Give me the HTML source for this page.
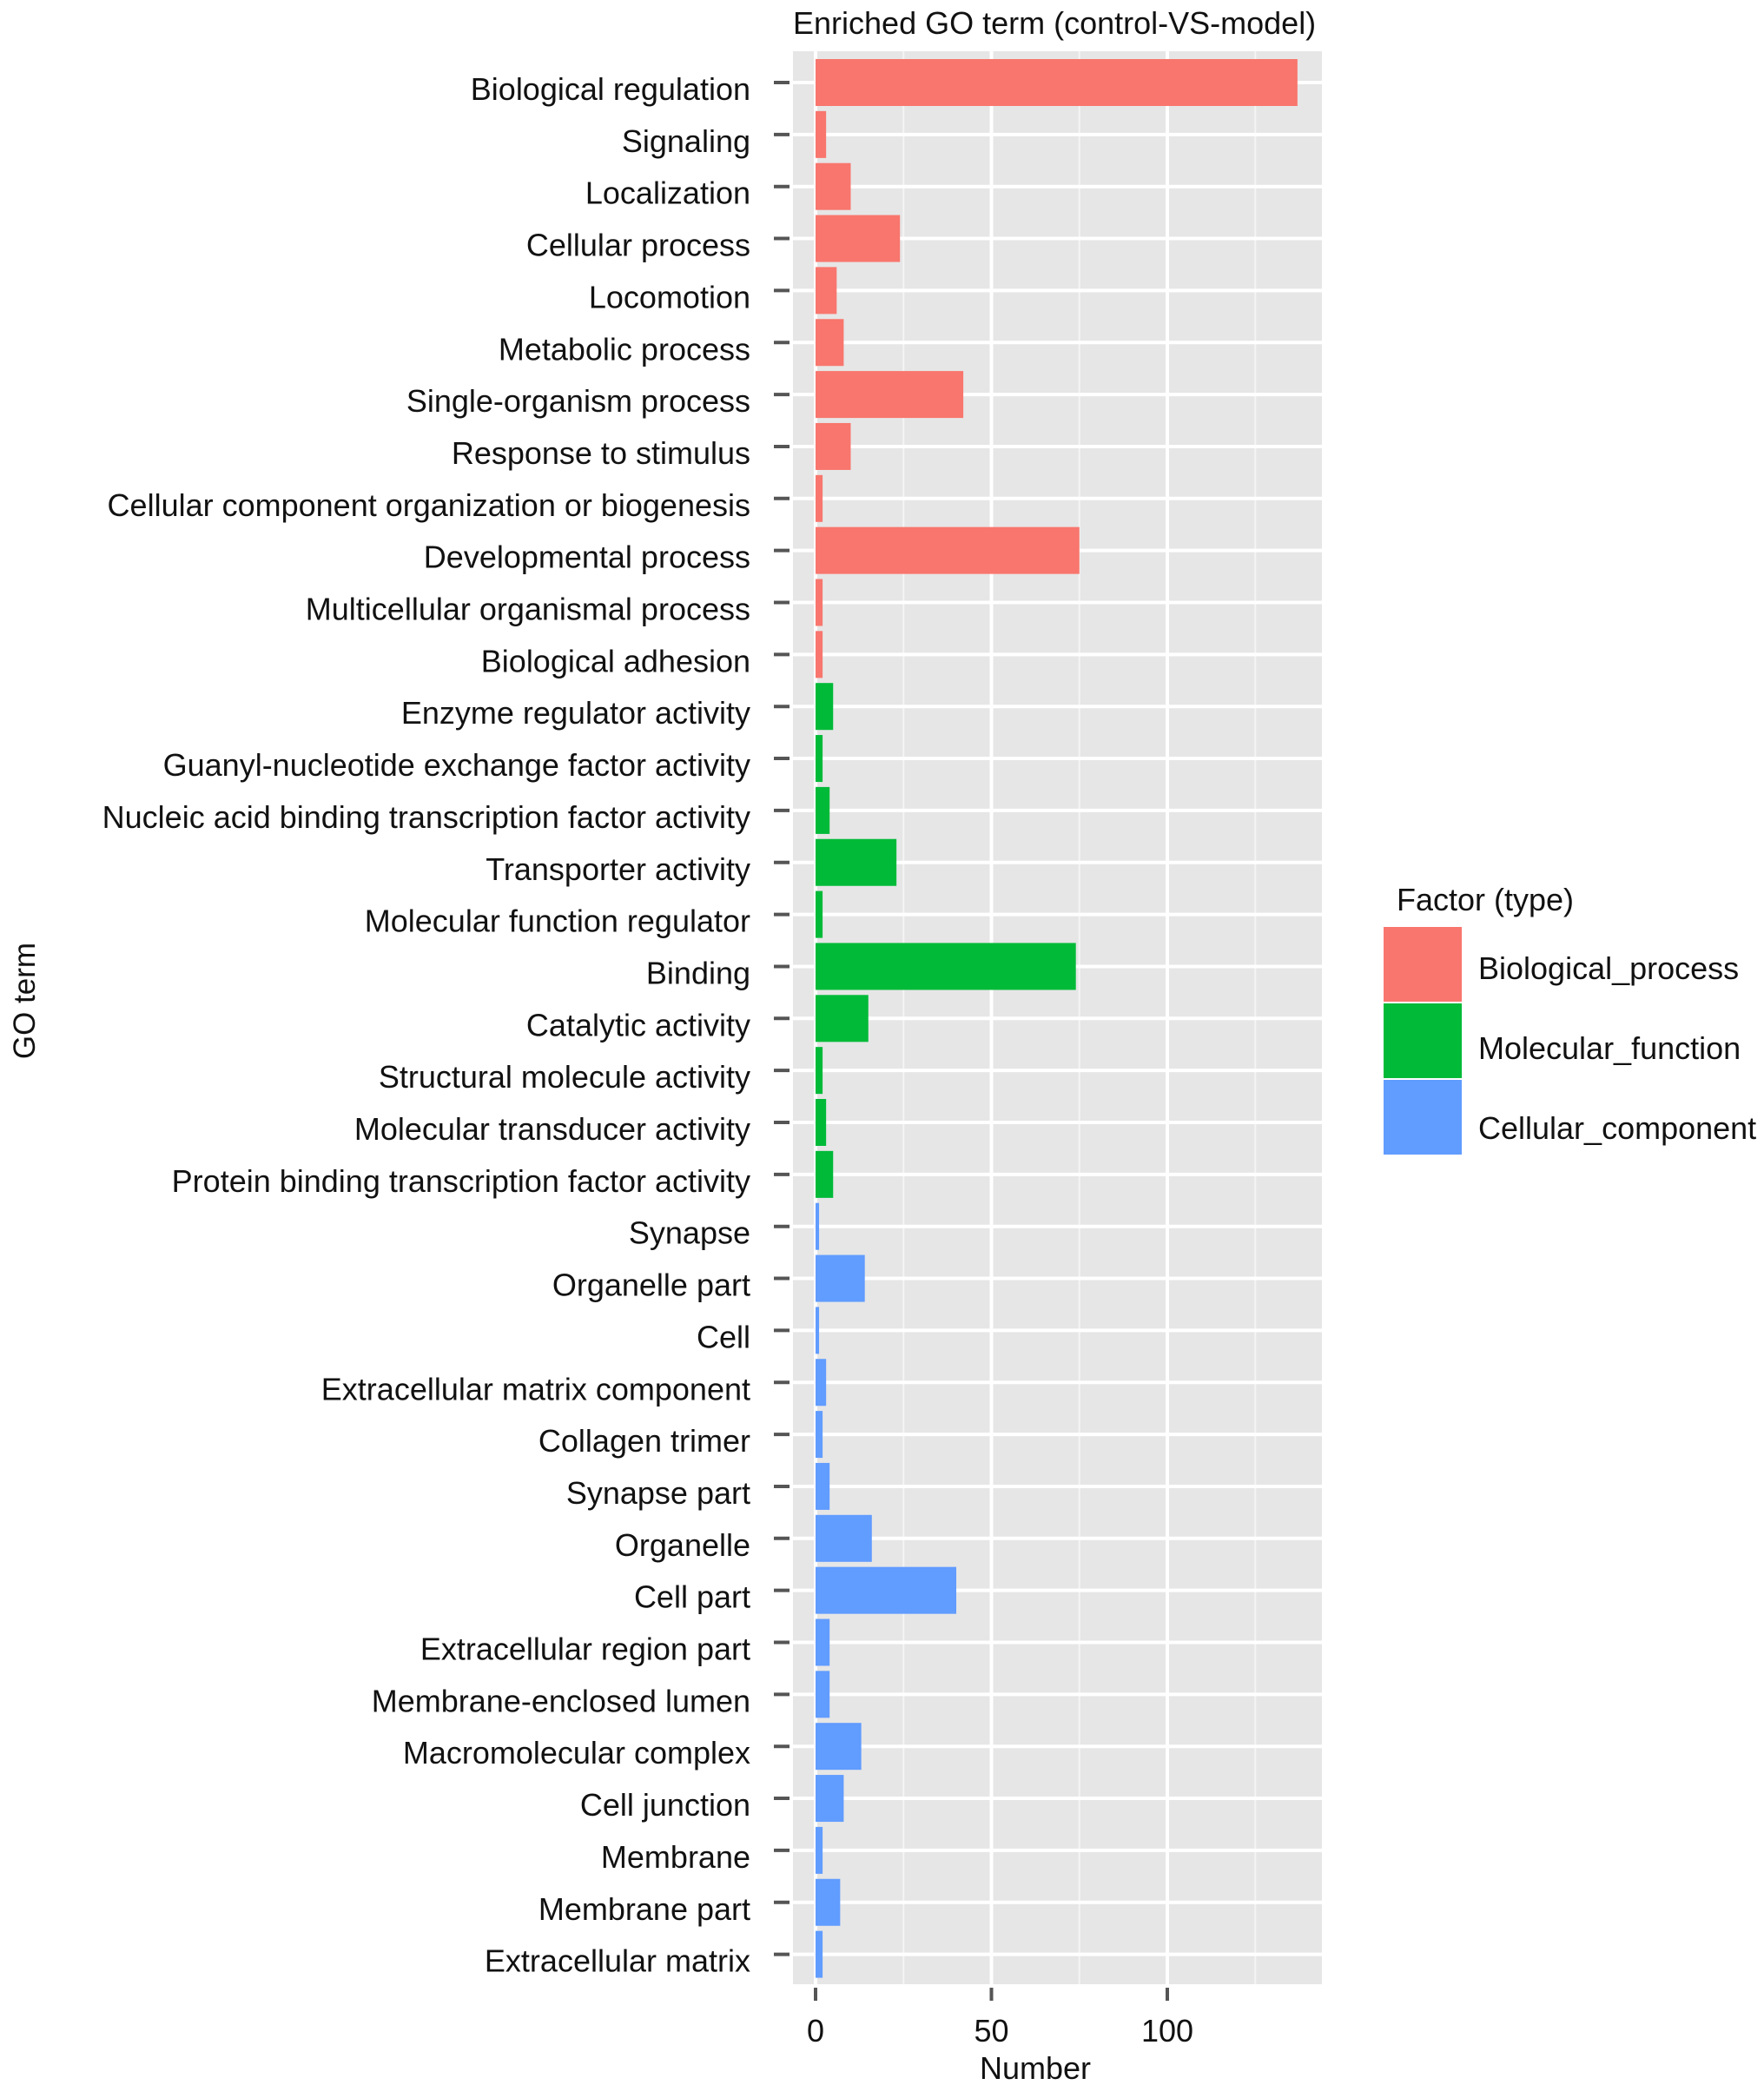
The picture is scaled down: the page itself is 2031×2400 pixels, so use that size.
<!DOCTYPE html>
<html><head><meta charset="utf-8">
<style>
html,body{margin:0;padding:0;background:#fff;}
svg{display:block;font-family:"Liberation Sans",Arial,sans-serif;}
</style></head>
<body>
<svg id="chart" width="2031" height="2400" viewBox="0 0 2031 2400" xmlns="http://www.w3.org/2000/svg">
<text x="913" y="39" font-size="36" fill="#111">Enriched GO term (control-VS-model)</text>
<rect x="913" y="59" width="609" height="2225" fill="#e6e6e6"/>
<g id="grid"></g>
<g id="bars"></g>
<g id="yaxis"></g>
<g id="xaxis"></g>
<text x="1192" y="2393" font-size="36" text-anchor="middle" fill="#111">Number</text>
<text x="40" y="1152" font-size="35" text-anchor="middle" fill="#111" transform="rotate(-90 40 1152)">GO term</text>
<g>
<text x="1608" y="1048" font-size="36" fill="#111">Factor (type)</text>
<rect x="1593" y="1067" width="90" height="86" fill="#F8766D"/>
<rect x="1593" y="1155" width="90" height="86" fill="#00BA38"/>
<rect x="1593" y="1243" width="90" height="86" fill="#619CFF"/>
<text x="1702" y="1127" font-size="36" fill="#111">Biological_process</text>
<text x="1702" y="1219" font-size="36" fill="#111">Molecular_function</text>
<text x="1702" y="1311" font-size="36" fill="#111">Cellular_component</text>
</g>
</svg>
<script>
const categories = ["Biological regulation","Signaling","Localization","Cellular process","Locomotion","Metabolic process","Single-organism process","Response to stimulus","Cellular component organization or biogenesis","Developmental process","Multicellular organismal process","Biological adhesion","Enzyme regulator activity","Guanyl-nucleotide exchange factor activity","Nucleic acid binding transcription factor activity","Transporter activity","Molecular function regulator","Binding","Catalytic activity","Structural molecule activity","Molecular transducer activity","Protein binding transcription factor activity","Synapse","Organelle part","Cell","Extracellular matrix component","Collagen trimer","Synapse part","Organelle","Cell part","Extracellular region part","Membrane-enclosed lumen","Macromolecular complex","Cell junction","Membrane","Membrane part","Extracellular matrix"];
const values = [137,3,10,24,6,8,42,10,2,75,2,2,5,2,4,23,2,74,15,2,3,5,1,14,1,3,2,4,16,40,4,4,13,8,2,7,2];
const types = ["BP","BP","BP","BP","BP","BP","BP","BP","BP","BP","BP","BP","MF","MF","MF","MF","MF","MF","MF","MF","MF","MF","CC","CC","CC","CC","CC","CC","CC","CC","CC","CC","CC","CC","CC","CC","CC"];
const xTicks = [0,50,100];
const xMinor = [25,75,125];
const colors = {BP:"#F8766D",MF:"#00BA38",CC:"#619CFF"};
const NS="http://www.w3.org/2000/svg";
const x0px=939, pxPer=4.05;
function xs(v){return x0px+v*pxPer;}
const yTop=95, step=59.85;
function ys(i){return yTop+i*step;}
function mk(tag,attrs,parent){const e=document.createElementNS(NS,tag);for(const k in attrs)e.setAttribute(k,attrs[k]);parent.appendChild(e);return e;}
const grid=document.getElementById('grid'),bars=document.getElementById('bars'),ya=document.getElementById('yaxis'),xa=document.getElementById('xaxis');
xMinor.forEach(v=>{const l=mk('line',{x1:xs(v),x2:xs(v),y1:59,y2:2284,stroke:'#f4f4f4','stroke-width':2},grid);

});
xTicks.forEach(v=>{const l=mk('line',{x1:xs(v),x2:xs(v),y1:59,y2:2284,stroke:'#fff','stroke-width':4},grid);


const t=mk('line',{x1:xs(v),x2:xs(v),y1:2288,y2:2303,stroke:'#555','stroke-width':4},xa);


const tx=mk('text',{x:xs(v),y:2350,'font-size':36,'text-anchor':'middle',fill:'#111'},xa);tx.textContent=v;

});
categories.forEach((c,i)=>{const y=ys(i);
const g=mk('line',{x1:913,x2:1522,y1:y,y2:y,stroke:'#fff','stroke-width':4},grid);


const b=mk('rect',{x:xs(0),y:y-27,width:Math.max(values[i]*pxPer,1),height:54,fill:colors[types[i]]},bars);


const t=mk('line',{x1:891,x2:909,y1:y,y2:y,stroke:'#555','stroke-width':4},ya);


const tx=mk('text',{x:864,y:y+20,'font-size':36,'text-anchor':'end',fill:'#111'},ya);tx.textContent=c;

});
</script>
</body></html>
